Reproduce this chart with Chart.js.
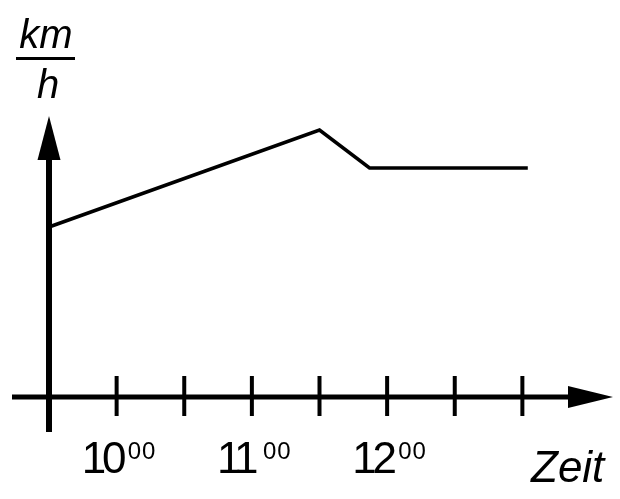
<!DOCTYPE html>
<html>
<head>
<meta charset="utf-8">
<script src="https://cdn.jsdelivr.net/npm/chart.js@4.4.1/dist/chart.umd.min.js"></script>
<style>
  html, body { margin: 0; padding: 0; background: #fff; }
  #wrap { width: 620px; height: 499px; }
</style>
</head>
<body>
<div id="wrap"><canvas id="speedChart" width="620" height="499"></canvas></div>
<script>
// Zeit in Stunden, Geschwindigkeit in willkuerlichen Einheiten
const times = [9.5, 11.5, 11.87, 13.04];
const speeds = [60.5, 95, 81.5, 81.5];
const tickTimes = [10, 10.5, 11, 11.5, 12, 12.5, 13];
const labelTimes = [10, 11, 12];
const labelHours = ['10', '11', '12'];
const labelMinutes = ['00', '00', '00'];
const xTitle = 'Zeit';
const yTitleTop = 'km';
const yTitleBottom = 'h';

const FONT = '"Liberation Sans", Arial, Helvetica, sans-serif';

const axesPlugin = {
    id: 'arrowAxes',
    afterDatasetsDraw(chart) {
        const ctx = chart.ctx;
        const xs = chart.scales.x;
        const ys = chart.scales.y;
        const x0 = xs.getPixelForValue(xs.min);
        const y0 = ys.getPixelForValue(0);
        const yTop = ys.getPixelForValue(ys.max);
        const xEnd = xs.getPixelForValue(xs.max) + 23;

        ctx.save();
        ctx.fillStyle = '#000';
        ctx.strokeStyle = '#000';
        ctx.lineCap = 'butt';

        // x-Achse
        ctx.lineWidth = 5;
        ctx.beginPath();
        ctx.moveTo(x0 - 37, y0);
        ctx.lineTo(xEnd - 40, y0);
        ctx.stroke();
        ctx.beginPath();
        ctx.moveTo(xEnd, y0);
        ctx.lineTo(xEnd - 45, y0 - 11);
        ctx.lineTo(xEnd - 45, y0 + 11);
        ctx.closePath();
        ctx.fill();

        // y-Achse
        ctx.lineWidth = 6;
        ctx.beginPath();
        ctx.moveTo(x0, y0 + 35);
        ctx.lineTo(x0, yTop + 40);
        ctx.stroke();
        ctx.beginPath();
        ctx.moveTo(x0, yTop);
        ctx.lineTo(x0 - 11.5, yTop + 44);
        ctx.lineTo(x0 + 11.5, yTop + 44);
        ctx.closePath();
        ctx.fill();

        // Teilstriche
        ctx.lineWidth = 4;
        tickTimes.forEach(t => {
            const px = xs.getPixelForValue(t);
            ctx.beginPath();
            ctx.moveTo(px, y0 - 21);
            ctx.lineTo(px, y0 + 19);
            ctx.stroke();
        });

        // Beschriftung Uhrzeit
        ctx.textBaseline = 'alphabetic';
        ctx.textAlign = 'left';
        labelTimes.forEach((t, i) => {
            const px = xs.getPixelForValue(t);
            ctx.font = '44px ' + FONT;
            ctx.letterSpacing = '-4px';
            ctx.fillText(labelHours[i], px - 35, y0 + 76);
            ctx.font = '24px ' + FONT;
            ctx.letterSpacing = '1px';
            ctx.fillText(labelMinutes[i], px + 11, y0 + 62);
        });
        ctx.letterSpacing = '0px';

        ctx.font = 'italic 44px ' + FONT;
        ctx.fillText(xTitle, 531, y0 + 85);

        // Einheit km/h
        ctx.textAlign = 'center';
        ctx.font = 'italic 40px ' + FONT;
        ctx.fillText(yTitleTop, 46, 48);
        ctx.fillText(yTitleBottom, 48, 98);
        ctx.lineWidth = 3;
        ctx.beginPath();
        ctx.moveTo(16, 58.5);
        ctx.lineTo(75, 58.5);
        ctx.stroke();

        ctx.restore();
    }
};

new Chart(document.getElementById('speedChart').getContext('2d'), {
    type: 'line',
    data: {
        datasets: [{
            data: times.map((t, i) => ({ x: t, y: speeds[i] })),
            borderColor: '#000',
            borderWidth: 3.5,
            pointRadius: 0,
            tension: 0,
            fill: false,
            clip: false
        }]
    },
    options: {
        responsive: false,
        animation: false,
        devicePixelRatio: 1,
        layout: { padding: { left: 49, right: 30, top: 116, bottom: 102 } },
        plugins: { legend: { display: false }, tooltip: { enabled: false } },
        scales: {
            x: { type: 'linear', min: 9.5, max: 13.5, display: false },
            y: { type: 'linear', min: 0, max: 100, display: false }
        }
    },
    plugins: [axesPlugin]
});
</script>
</body>
</html>
